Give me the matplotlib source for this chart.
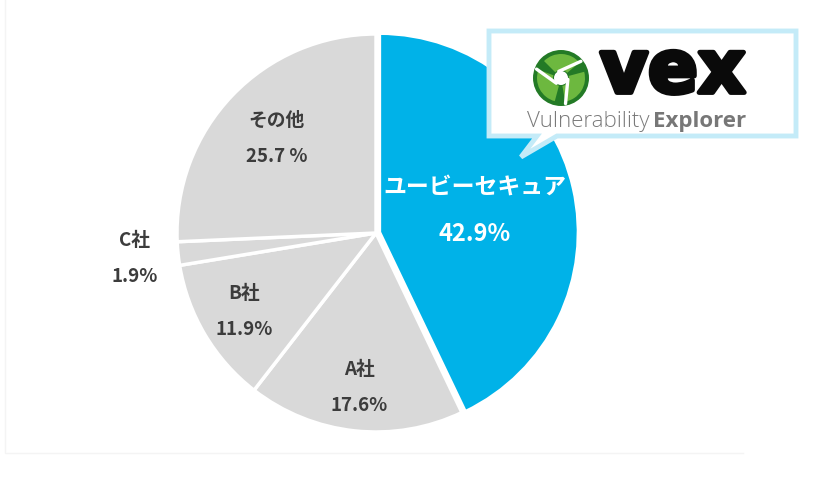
import numpy as np
import matplotlib.pyplot as plt
import matplotlib.patheffects as pe
from matplotlib.patches import Polygon, Circle, Wedge

plt.rcParams['font.family'] = ['Noto Sans CJK JP', 'DejaVu Sans']

# data
labels = ['ユービーセキュア', 'A社', 'B社', 'C社', 'その他']
values = [42.9, 17.6, 11.9, 1.9, 25.7]
pct_text = ['42.9%', '17.6%', '11.9%', '1.9%', '25.7 %']

colors = ['#00B2E8', '#D9D9D9', '#D9D9D9', '#D9D9D9', '#D9D9D9']
text_colors = ['white', '#3C3C3C', '#3C3C3C', '#3C3C3C', '#3C3C3C']
label_dist = [0.51, 0.78, 0.77, 1.22, 0.69]
explode = [3.5, 0, 0, 0, 0]   # pixels (pie uses absolute offset)

W, H = 820, 479
fig = plt.figure(figsize=(W / 100, H / 100), dpi=100)
ax = fig.add_axes([0, 0, 1, 1])

cx, cy, R = 376, H - 233, 199

# faint frame
ax.plot([5, 5, 743], [H, H - 453, H - 453], color='#F4F4F4', lw=1, zorder=0)

wedges, _ = ax.pie(values, colors=colors, startangle=90, counterclock=False,
                   center=(cx, cy), radius=R, explode=explode,
                   wedgeprops=dict(edgecolor='white', linewidth=2.5), frame=True)
ax.set_xlim(0, W)
ax.set_ylim(0, H)
ax.set_aspect('equal')
ax.axis('off')

for i, w in enumerate(wedges):
    ang = np.deg2rad((w.theta1 + w.theta2) / 2)
    x = cx + R * label_dist[i] * np.cos(ang)
    y = cy + R * label_dist[i] * np.sin(ang)
    if i == 0:
        gap = 23
        ax.text(x, y + gap, labels[i], ha='center', va='center', fontsize=16.5,
                fontweight='bold', color=text_colors[i], zorder=5)
        ax.text(x, y - gap, pct_text[i], ha='center', va='center', fontsize=17,
                fontweight='bold', color=text_colors[i], zorder=5)
    else:
        gap = 18
        ax.text(x, y + gap, labels[i], ha='center', va='center', fontsize=13.5,
                fontweight='bold', color=text_colors[i], zorder=5)
        ax.text(x, y - gap, pct_text[i], ha='center', va='center', fontsize=13.5,
                fontweight='bold', color=text_colors[i], zorder=5)

# callout box with logo
bx0, bx1, by0, by1 = 489, 796, H - 136, H - 31
box = Polygon([(bx0, by0), (537, by0), (521, H - 157), (557, by0), (bx1, by0),
               (bx1, by1), (bx0, by1)], closed=True, facecolor='white',
              edgecolor='#C4EBF8', linewidth=3.5, joinstyle='miter', zorder=6)
ax.add_patch(box)

lx, ly, lr = 561, H - 78, 28
ax.add_patch(Circle((lx, ly), lr, facecolor='#237A26', edgecolor='none', zorder=7))
for a0 in [40, 160, 280]:
    ax.add_patch(Wedge((lx, ly), lr - 4, a0, a0 + 95, width=lr - 12,
                       facecolor='#6DB83F', edgecolor='none', zorder=8))
for a0 in [40, 160, 280]:
    t = np.deg2rad(a0)
    ax.plot([lx + 7 * np.cos(t + 1.2), lx + (lr - 2) * np.cos(t)],
            [ly + 7 * np.sin(t + 1.2), ly + (lr - 2) * np.sin(t)],
            color='white', lw=2.4, solid_capstyle='round', zorder=9)
ax.add_patch(Circle((lx, ly), 7, facecolor='white', edgecolor='none', zorder=9))

ax.text(600, H - 72, 'vex', ha='left', va='center', fontsize=53,
        fontweight='heavy', family='DejaVu Sans', color='#0A0A0A', zorder=10,
        path_effects=[pe.withStroke(linewidth=3.5, foreground='#0A0A0A')])
t1 = ax.text(527, H - 121, 'Vulnerability', ha='left', va='center', fontsize=16,
             fontweight='light', family='Open Sans', color='#7A7A7A', zorder=10)
fig.canvas.draw()
bb = t1.get_window_extent()
x_end = ax.transData.inverted().transform((bb.x1, bb.y0))[0]
ax.text(x_end + 3, H - 121, 'Explorer', ha='left', va='center', fontsize=16,
        fontweight='bold', family='Open Sans', color='#777777', zorder=10)

fig.savefig('out.png', dpi=100, facecolor='white')
